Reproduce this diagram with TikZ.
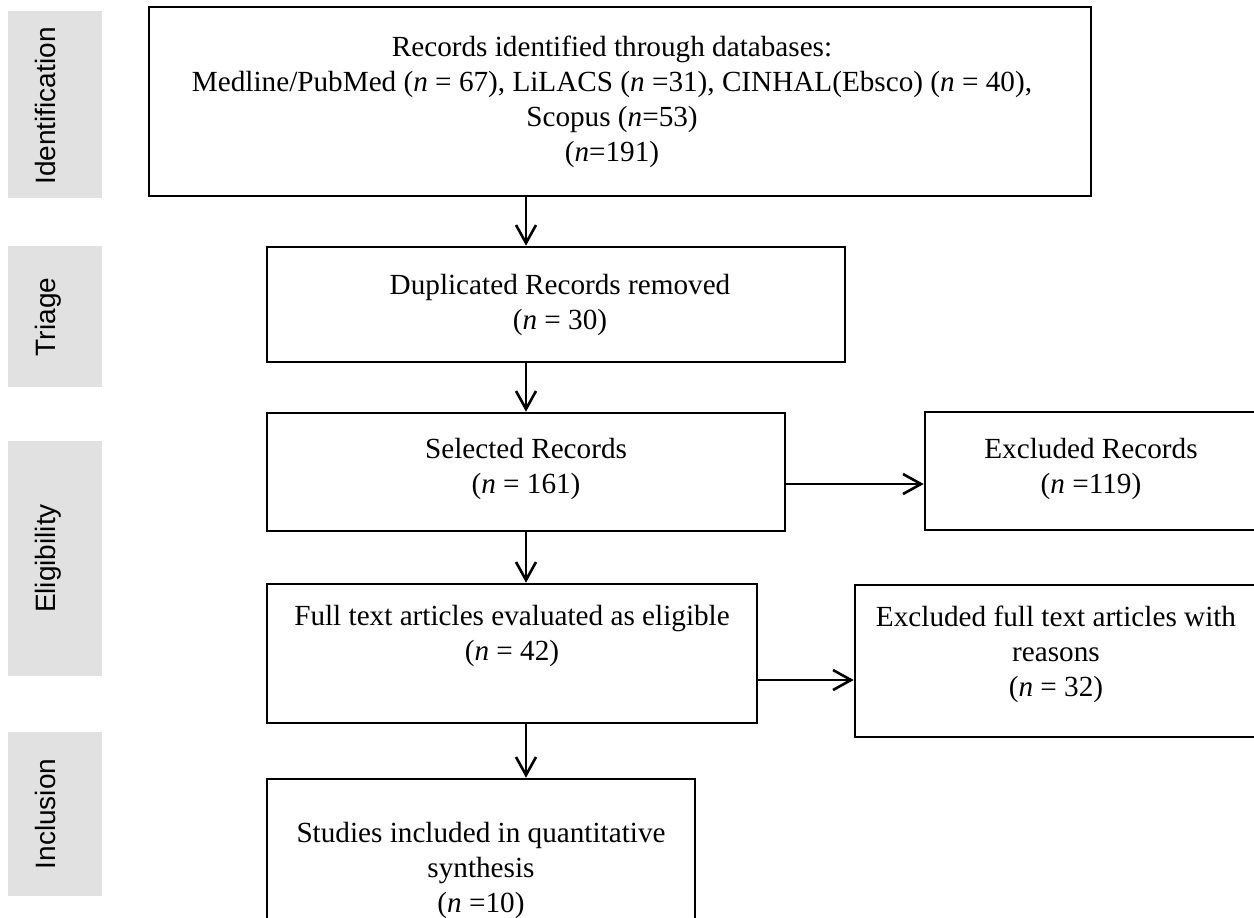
\documentclass[tikz,border=0pt]{standalone}
\usepackage{fontspec}
\setmainfont{Liberation Serif}
\setsansfont{Liberation Sans}
\usetikzlibrary{arrows.meta}
\definecolor{sidegray}{RGB}{225,225,225}
\begin{document}
\begin{tikzpicture}[x=0.5pt,y=-0.5pt,
  box/.style={draw=black, line width=1.3pt, rectangle, inner sep=0pt},
  txt/.style={align=center, font=\fontsize{14.6}{17.5}\selectfont, inner sep=0pt},
  bar/.style={fill=sidegray, rectangle, inner sep=0pt},
  sidetxt/.style={font=\sffamily\fontsize{14}{16}\selectfont, rotate=90, anchor=base, inner sep=0pt},
  arr/.style={line width=1.3pt, -{Straight Barb[length=9pt,width=10pt,line width=1.3pt]}}
]
\useasboundingbox (0,0) rectangle (1254,917);

% side bars
\node[bar, minimum width=47pt, minimum height=93.5pt] (sid) at (55,104.5) {};
\node[bar, minimum width=47pt, minimum height=70.5pt] (str) at (55,316.5) {};
\node[bar, minimum width=47pt, minimum height=117.5pt] (sel) at (55,558.5) {};
\node[bar, minimum width=47pt, minimum height=82pt] (sin) at (55,814) {};
\node[sidetxt] (lid) at (55,106) {Identification};
\node[sidetxt] (ltr) at (55,317) {Triage};
\node[sidetxt] (lel) at (55,558.5) {Eligibility};
\node[sidetxt] (lin) at (55,814) {Inclusion};

% boxes
\node[box, minimum width=471pt, minimum height=94.5pt] (b1) at (620,101.5) {};
\node[box, minimum width=289pt, minimum height=57.5pt] (b2) at (556,304.5) {};
\node[box, minimum width=259pt, minimum height=59pt] (b3) at (526,472) {};
\node[box, minimum width=172.5pt, minimum height=59pt] (er) at (1097.5,471) {};
\node[box, minimum width=245pt, minimum height=69.5pt] (b4) at (512,653.5) {};
\node[box, minimum width=207.5pt, minimum height=76pt] (ef) at (1062.5,661) {};
\node[box, minimum width=214pt, minimum height=80.5pt] (b5) at (481,859.5) {};

% texts
\node[txt] (t1) at (612,102) {Records identified through databases:\\
Medline/PubMed (\textit{n} = 67), LiLACS (\textit{n} =31), CINHAL(Ebsco) (\textit{n} = 40),\\
Scopus (\textit{n}=53)\\
(\textit{n}=191)};
\node[txt] (t2) at (560,305) {Duplicated Records removed\\(\textit{n} = 30)};
\node[txt] (t3) at (526,469) {Selected Records\\(\textit{n} = 161)};
\node[txt] (ter) at (1091,469) {Excluded Records\\(\textit{n} =119)};
\node[txt] (t4) at (512,636) {Full text articles evaluated as eligible\\(\textit{n} = 42)};
\node[txt] (tef) at (1056,654) {Excluded full text articles with\\reasons\\(\textit{n} = 32)};
\node[txt] (t5) at (481,870) {Studies included in quantitative\\synthesis\\(\textit{n} =10)};

% connectors
\draw[arr] (b1.south -| b3.north) -- (b2.north -| b3.north);
\draw[arr] (b2.south -| b3.north) -- (b3.north);
\draw[arr] (b3.south) -- (b4.north -| b3.south);
\draw[arr] (b4.south -| b3.south) -- (b5.north -| b3.south);
\draw[arr] ([yshift=-6pt]b3.east) -- ([yshift=-6pt]b3.east -| er.west);
\draw[arr] ([yshift=-13.25pt]b4.east) -- ([yshift=-13.25pt]b4.east -| ef.west);
\end{tikzpicture}
\end{document}
